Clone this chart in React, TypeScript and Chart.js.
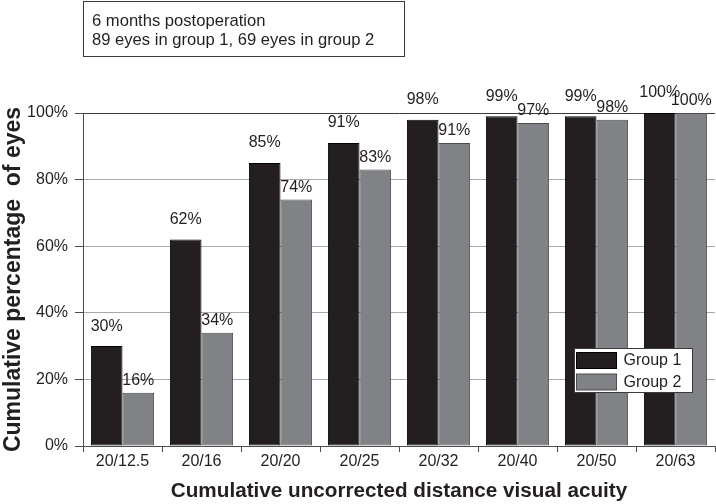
import React, { useEffect, useRef } from "react";
import { Chart, registerables } from "chart.js";

Chart.register(...registerables);

const categories = ["20/12.5", "20/16", "20/20", "20/25", "20/32", "20/40", "20/50", "20/63"];
const group1 = [30, 62, 85, 91, 98, 99, 99, 100];
const group2 = [16, 34, 74, 83, 91, 97, 98, 100];
const seriesNames = ["Group 1", "Group 2"];
const yTicks = [0, 20, 40, 60, 80, 100];
const infoLines = ["6 months postoperation", "89 eyes in group 1, 69 eyes in group 2"];
const xTitle = "Cumulative uncorrected distance visual acuity";
const yTitle = "Cumulative percentage  of eyes";

const FONT = "'Liberation Sans', Arial, Helvetica, sans-serif";
const TEXT = "#231f20";
const DARK = "#231f20";
const GRAY = "#808285";

const labelGap = [20, 12];

const overlayPlugin = {
  id: "overlay",
  afterDatasetsDraw(chart: any) {
    const ctx = chart.ctx;
    ctx.save();
    ctx.font = `16px ${FONT}`;
    ctx.fillStyle = TEXT;
    ctx.textAlign = "center";
    ctx.textBaseline = "middle";
    chart.data.datasets.forEach((ds: any, di: number) => {
      const meta = chart.getDatasetMeta(di);
      meta.data.forEach((bar: any, i: number) => {
        ctx.fillText(`${ds.data[i]}%`, bar.x, bar.y - labelGap[di]);
      });
    });
    ctx.restore();
  },
  afterDraw(chart: any) {
    const ctx = chart.ctx;
    const area = chart.chartArea;
    ctx.save();
    // info box
    const bx = area.left + 0.5;
    ctx.fillStyle = "#fff";
    ctx.strokeStyle = "#3a3a3a";
    ctx.lineWidth = 1;
    ctx.fillRect(bx, 1.5, 321, 55);
    ctx.strokeRect(bx, 1.5, 321, 55);
    ctx.fillStyle = TEXT;
    ctx.font = `16.6px ${FONT}`;
    ctx.textAlign = "left";
    ctx.textBaseline = "middle";
    infoLines.forEach((t, i) => ctx.fillText(t, area.left + 9, 21 + i * 19.5));

    // legend
    const lx = 574.5, ly = 348.5, lw = 118, lh = 44;
    ctx.fillStyle = "#fff";
    ctx.fillRect(lx, ly, lw, lh);
    ctx.strokeStyle = "#3a3a3a";
    ctx.strokeRect(lx, ly, lw, lh);
    chart.data.datasets.forEach((ds: any, di: number) => {
      const sy = ly + 4 + di * 21.5;
      ctx.fillStyle = ds.backgroundColor;
      ctx.fillRect(lx + 2, sy, 40, 16);
      ctx.strokeStyle = ds.borderColor;
      ctx.strokeRect(lx + 2, sy, 40, 16);
      ctx.fillStyle = TEXT;
      ctx.font = `16px ${FONT}`;
      ctx.fillText(seriesNames[di], lx + 49, sy + 8.5);
    });
    ctx.restore();
  },
};

export default function App() {
  const ref = useRef<HTMLCanvasElement>(null);
  useEffect(() => {
    const chart = new Chart(ref.current!, {
      type: "bar",
      data: {
        labels: categories,
        datasets: [
          {
            label: seriesNames[0],
            data: group1,
            backgroundColor: DARK,
            borderColor: "#000000",
            borderWidth: 1,
            borderSkipped: false,
            barPercentage: 1,
            categoryPercentage: 0.8,
          },
          {
            label: seriesNames[1],
            data: group2,
            backgroundColor: GRAY,
            borderColor: "#4d4d4f",
            borderWidth: 1,
            borderSkipped: false,
            barPercentage: 1,
            categoryPercentage: 0.8,
          },
        ],
      },
      options: {
        responsive: false,
        animation: false,
        devicePixelRatio: 1,
        layout: { padding: { top: 113, right: 1, left: 0, bottom: 0 } },
        plugins: { legend: { display: false }, tooltip: { enabled: false } },
        scales: {
          x: {
            grid: {
              display: true,
              drawOnChartArea: false,
              drawTicks: true,
              tickLength: 6,
              offset: true,
              color: "#4d4d4f",
            },
            border: { color: "#4d4d4f", width: 1 },
            ticks: {
              font: { family: FONT, size: 16 },
              color: TEXT,
              padding: 0,
              maxRotation: 0,
              autoSkip: false,
            },
            title: {
              display: true,
              text: xTitle,
              font: { family: FONT, size: 20.7, weight: "bold" },
              color: TEXT,
              padding: { top: 0, bottom: 0 },
            },
            afterFit(scale: any) {
              scale.height = 58;
            },
          },
          y: {
            min: 0,
            max: 100,
            afterBuildTicks(scale: any) {
              scale.ticks = yTicks.map((v) => ({ value: v }));
            },
            grid: {
              color: (c: any) => (c.tick && c.tick.value === 100 ? "#3a3a3a" : "#a7a9ac"),
              tickColor: "#4d4d4f",
              drawTicks: true,
              tickLength: 8,
            },
            border: { color: "#4d4d4f", width: 1 },
            ticks: {
              font: { family: FONT, size: 16 },
              color: TEXT,
              padding: 7,
              callback: (v: any) => `${v}%`,
            },
            title: {
              display: true,
              text: yTitle,
              font: { family: FONT, size: 23, weight: "bold" },
              color: TEXT,
              padding: { top: 0, bottom: 0 },
            },
            afterFit(scale: any) {
              scale.width = 83;
            },
          },
        },
      },
      plugins: [overlayPlugin],
    });
    return () => chart.destroy();
  }, []);
  return (
    <div style={{ position: "absolute", left: 0, top: 0, width: 716, height: 504, background: "#fff" }}>
      <canvas ref={ref} width={716} height={504} style={{ display: "block" }} />
    </div>
  );
}
